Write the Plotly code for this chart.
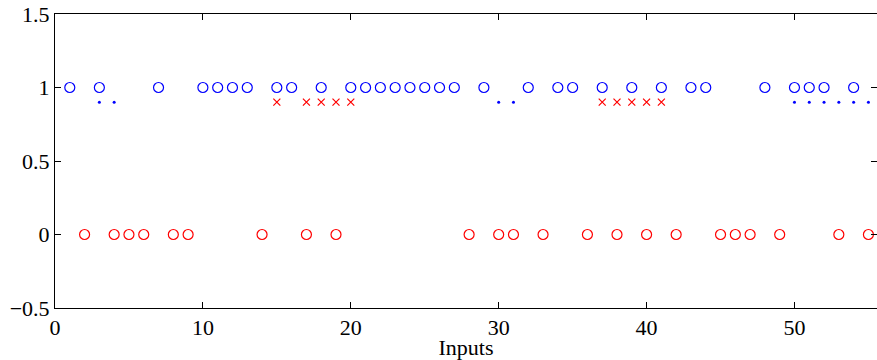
import plotly.graph_objects as go

blue_circle_x = [1, 3, 7, 10, 11, 12, 13, 15, 16, 18, 20, 21, 22, 23, 24, 25, 26, 27, 29, 32, 34, 35, 37, 39, 41, 43, 44, 48, 50, 51, 52, 54]
blue_circle_y = [1] * len(blue_circle_x)
blue_dot_x = [3, 4, 30, 31, 50, 51, 52, 53, 54, 55]
blue_dot_y = [0.9] * len(blue_dot_x)
red_x_x = [15, 17, 18, 19, 20, 37, 38, 39, 40, 41]
red_x_y = [0.9] * len(red_x_x)
red_circle_x = [2, 4, 5, 6, 8, 9, 14, 17, 19, 28, 30, 31, 33, 36, 38, 40, 42, 45, 46, 47, 49, 53, 55]
red_circle_y = [0] * len(red_circle_x)

x_ticks = [0, 10, 20, 30, 40, 50]
y_ticks = [-0.5, 0, 0.5, 1, 1.5]

BLUE = "#0000FF"
RED = "#FF0000"

fig = go.Figure()
fig.add_trace(go.Scatter(x=blue_circle_x, y=blue_circle_y, mode="markers",
                         marker=dict(symbol="circle-open", size=10, color=BLUE, line=dict(width=1.2, color=BLUE))))
fig.add_trace(go.Scatter(x=blue_dot_x, y=blue_dot_y, mode="markers",
                         marker=dict(symbol="circle", size=3, color=BLUE)))
fig.add_trace(go.Scatter(x=red_x_x, y=red_x_y, mode="markers",
                         marker=dict(symbol="x-thin-open", size=7, color=RED, line=dict(width=1.2, color=RED))))
fig.add_trace(go.Scatter(x=red_circle_x, y=red_circle_y, mode="markers",
                         marker=dict(symbol="circle-open", size=10, color=RED, line=dict(width=1.2, color=RED))))
# invisible trace to activate right-side tick axis
fig.add_trace(go.Scatter(x=[0], y=[0], yaxis="y2", mode="markers", marker=dict(opacity=0), hoverinfo="skip"))

font = dict(family="Liberation Serif", size=22, color="black")

fig.update_layout(
    width=877, height=360,
    margin=dict(l=55, r=0, t=14, b=52, autoexpand=False),
    paper_bgcolor="white", plot_bgcolor="white",
    showlegend=False,
    font=font,
    xaxis=dict(range=[0, 55.58], tickvals=x_ticks, ticks="inside", ticklen=6, tickcolor="black",
               showline=True, linecolor="black", linewidth=1, mirror="ticks",
               showgrid=False, zeroline=False, tickfont=font, automargin=False,
               title=dict(text="Inputs", font=font, standoff=0)),
    yaxis=dict(range=[-0.5, 1.5], tickvals=y_ticks, ticks="inside", ticklen=6, tickcolor="black",
               showline=True, linecolor="black", linewidth=1, mirror=False, automargin=False,
               showgrid=False, zeroline=False, tickfont=font),
    yaxis2=dict(range=[-0.5, 1.5], tickvals=y_ticks, overlaying="y", side="right",
                ticks="inside", ticklen=6, tickcolor="black", showticklabels=False, automargin=False,
                showline=False, showgrid=False, zeroline=False),
)

fig.write_html("out.html", config={"displayModeBar": False},
               post_script="document.body.style.margin='0';document.body.style.padding='0';")
